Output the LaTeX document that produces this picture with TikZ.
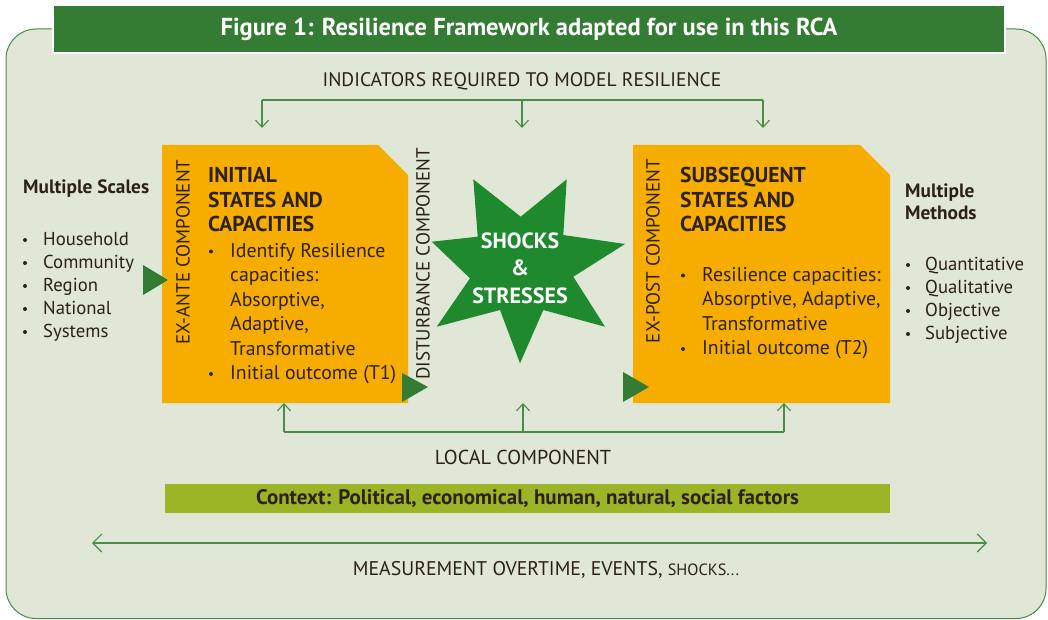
\documentclass[tikz,border=0pt]{standalone}
\usepackage{fontspec}
\setmainfont{PT Sans}
\usetikzlibrary{arrows.meta}
\definecolor{framefill}{HTML}{E0E7D6}
\definecolor{frameline}{HTML}{4A8A47}
\definecolor{titlegreen}{HTML}{347C33}
\definecolor{boxorange}{HTML}{F7AD00}
\definecolor{stargreen}{HTML}{1E8A2D}
\definecolor{ctxgreen}{HTML}{9CB527}
\definecolor{ink}{HTML}{2D2114}
\definecolor{arrowgreen}{HTML}{4B8C48}
\definecolor{tipgreen}{HTML}{347C33}

\newcommand{\fs}[2]{\fontsize{#1}{#2}\selectfont}

\begin{document}
\begin{tikzpicture}[x=1pt,y=-1pt,
  txt/.style={inner sep=0pt, text=ink},
  plain/.style={txt, font=\fs{19.6}{23}},
  heavy/.style={txt, font=\bfseries\fs{21.5}{24.5}, anchor=base west, align=left},
  body/.style={txt, font=\fs{19.8}{24.5}, anchor=base west, align=left},
  sidetitle/.style={txt, font=\bfseries\fs{19.3}{22}, anchor=base west, align=left},
  sidelist/.style={txt, font=\fs{18.7}{23}, anchor=base west, align=left},
  vlabel/.style={txt, font=\fs{19}{22}, rotate=90},
  dot/.style={circle, fill=ink, inner sep=0pt, minimum size=4pt},
  conn/.style={arrowgreen, line width=1.1pt},
  tophead/.style={-{Straight Barb[length=7pt,width=13pt]}},
  statebox/.style={fill=boxorange},
  pointer/.style={fill=tipgreen},
]
\useasboundingbox (0,0) rectangle (1048,620);
\fill[white] (0,0) rectangle (1048,620);

% outer panel
\draw[frameline, fill=framefill, line width=1pt, rounded corners=30pt] (6,29) rectangle (1046,618.5);

% heading bar
\node[fill=titlegreen, draw=white, line width=2pt, minimum width=952pt, minimum height=48pt,
      text=white, inner sep=0pt, font=\bfseries\fs{24.5}{26}] (title) at (529,29)
  {Figure 1: Resilience Framework adapted for use in this RCA};

% indicators bracket
\node[plain] (ind) at (522,81) {INDICATORS REQUIRED TO MODEL RESILIENCE};
\coordinate (bl) at (262,100);
\coordinate (bm) at (522,100);
\coordinate (br) at (763,100);
\coordinate (al) at (262,128);
\coordinate (am) at (522,128);
\coordinate (ar) at (763,128);
\draw[conn] (bl) -- (br);
\draw[conn, tophead] (bl) -- (al);
\draw[conn, tophead] (bm) -- (am);
\draw[conn, tophead] (br) -- (ar);

% state boxes
\fill[statebox] (162,145) -- (378,145) -- (408,175) -- (408,403) -- (162,403) -- cycle;
\fill[statebox] (633,145) -- (860,145) -- (890,175) -- (890,403) -- (633,403) -- cycle;
\node[inner sep=0pt, minimum width=246pt, minimum height=258pt] (initbox) at (285,274) {};
\node[inner sep=0pt, minimum width=257pt, minimum height=258pt] (subbox) at (761.5,274) {};

% pointers
\fill[pointer] (143,265) -- (168,280) -- (143,295) -- cycle;
\fill[pointer] (402,373) -- (428,387) -- (402,402) -- cycle;
\fill[pointer] (623,372) -- (649,387) -- (623,402) -- cycle;

% vertical labels
\node[vlabel] (exante) at (183,252) {EX-ANTE COMPONENT};
\node[vlabel] (disturb) at (423,264) {DISTURBANCE COMPONENT};
\node[vlabel] (expost) at (653,251) {EX-POST COMPONENT};

% initial states (anchors sit on the last baseline)
\node[heavy] (inithead) at (208,232) {INITIAL\\STATES AND\\CAPACITIES};
\node[body] (initlist) at (230,379.5) {Identify Resilience\\capacities:\\Absorptive,\\Adaptive,\\Transformative\\Initial outcome (T1)};
\node[dot] (ib1) at (211,251.5) {};
\node[dot] (ib2) at (211,374) {};

% subsequent states
\node[heavy] (subhead) at (680,232) {SUBSEQUENT\\STATES AND\\CAPACITIES};
\node[body] (sublist) at (702,354.5) {Resilience capacities:\\Absorptive, Adaptive,\\Transformative\\Initial outcome (T2)};
\node[dot] (sb1) at (683,275.5) {};
\node[dot] (sb2) at (683,349) {};

% scales
\node[sidetitle] (scales) at (23,194) {Multiple Scales};
\node[sidelist] (scalelist) at (43,337) {Household\\Community\\Region\\National\\Systems};
\foreach \i in {0,...,4}
  \node[dot] (sdot\i) at (25,240+23*\i) {};

% methods
\node[sidetitle] (methods) at (905,220) {Multiple\\Methods};
\node[sidelist] (methodlist) at (925,339) {Quantitative\\Qualitative\\Objective\\Subjective};
\foreach \i in {0,...,3}
  \node[dot] (mdot\i) at (908,265+23*\i) {};

% shock star
\fill[stargreen] (473.3,179.3) -- (520.7,216.7) -- (566.7,179.3) -- (563.3,235) -- (625,244)
  -- (573.3,276.7) -- (605,326.7) -- (543.3,310) -- (520,363.3) -- (500,310) -- (436.7,326.7)
  -- (470,278.3) -- (431.7,241.7) -- (477.7,236.7) -- cycle;
\node[inner sep=0pt, text=white, align=center, font=\bfseries\fs{22}{27.5}] (shock) at (520,268)
  {SHOCKS\\\&\\STRESSES};

% local component bracket
\coordinate (ll) at (284,432);
\coordinate (lm) at (523,432);
\coordinate (lr) at (784,432);
\coordinate (ul) at (284,403);
\coordinate (um) at (523,403);
\coordinate (ur) at (784,403);
\draw[conn] (ll) -- (lr);
\draw[conn, tophead] (ll) -- (ul);
\draw[conn, tophead] (lm) -- (um);
\draw[conn, tophead] (lr) -- (ur);
\node[txt, font=\fs{20.2}{23}] (local) at (523,457) {LOCAL COMPONENT};

% context bar
\node[fill=ctxgreen, minimum width=725pt, minimum height=29pt, inner sep=0pt, text=ink,
      font=\bfseries\fs{21}{22}] (context) at (527.5,498.5)
  {Context: Political, economical, human, natural, social factors};

% time axis
\coordinate (tl) at (92,543);
\coordinate (tr) at (987,543);
\draw[conn, {Straight Barb[length=9pt,width=18pt]}-{Straight Barb[length=9pt,width=18pt]}] (tl) -- (tr);
\node[txt, font=\fs{19.8}{23}] (measure) at (546,570) {MEASUREMENT OVERTIME, EVENTS, {\fs{16.3}{18}SHOCKS...}};
\end{tikzpicture}
\end{document}
